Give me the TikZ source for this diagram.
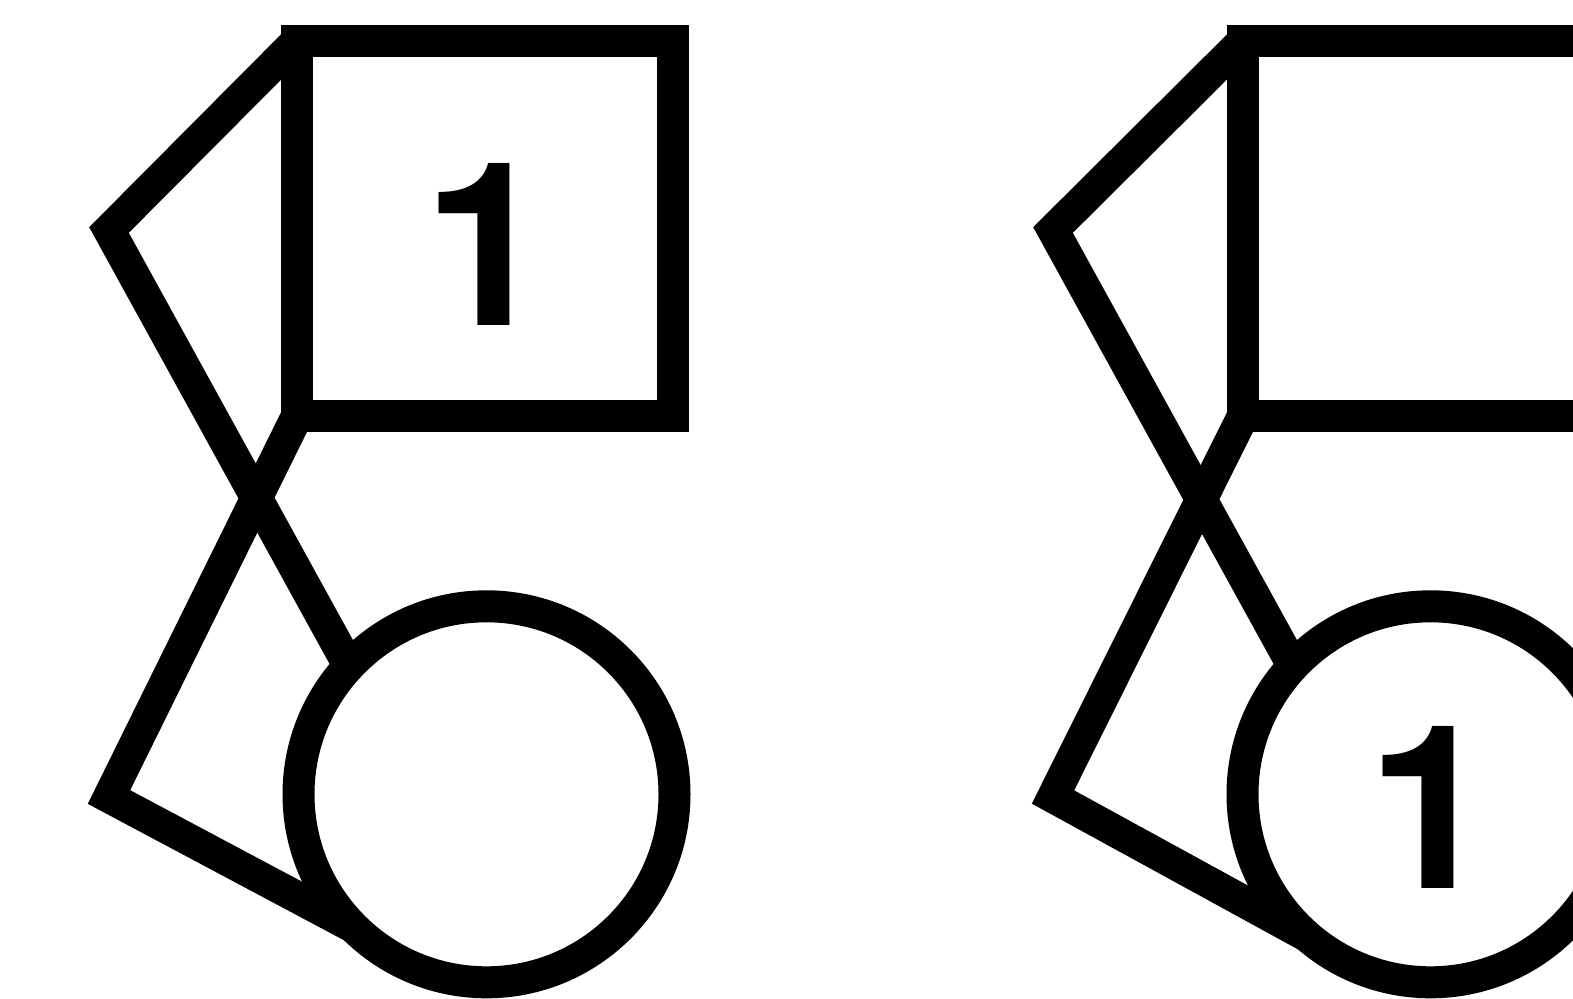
\documentclass[tikz,border=0pt]{standalone}
\usepackage{fontspec}
\newfontfamily\heros{TeX Gyre Heros}
\begin{document}
\begin{tikzpicture}[x=1pt,y=-1pt,
  shp/.style={draw=black, line width=32pt, inner sep=0pt, outer sep=0pt},
  sqbox/.style={shp, rectangle, minimum width=376pt, minimum height=375pt},
  circbox/.style={shp, circle, minimum size=376pt},
  lnk/.style={draw=black, line width=32pt, line join=miter, line cap=butt},
  num/.style={anchor=base, inner sep=0pt, font=\heros\bfseries\fontsize{228.6}{240}\selectfont}]
\useasboundingbox (0,0) rectangle (1573,998);
\clip (0,0) rectangle (1573,998);
% left figure
\node[sqbox] (sqA) at (485,228.5) {};
\node[circbox] (ciA) at (486.5,794.3) {};
\coordinate (apA1) at (109,230);
\coordinate (apA2) at (109,797);
\draw[lnk] (sqA.north west) -- (apA1) -- (ciA.137);
\draw[lnk] (sqA.south west) -- (apA2) -- (ciA.225);
\node[num] (tA) at (487.5,325) {1};
% right figure
\node[sqbox] (sqB) at (1431,228.5) {};
\node[circbox] (ciB) at (1430.5,794.3) {};
\coordinate (apB1) at (1053,230);
\coordinate (apB2) at (1053,797);
\draw[lnk] (sqB.north west) -- (apB1) -- (ciB.137);
\draw[lnk] (sqB.south west) -- (apB2) -- (ciB.229);
\node[num] (tB) at (1431,888) {1};
\end{tikzpicture}
\end{document}
